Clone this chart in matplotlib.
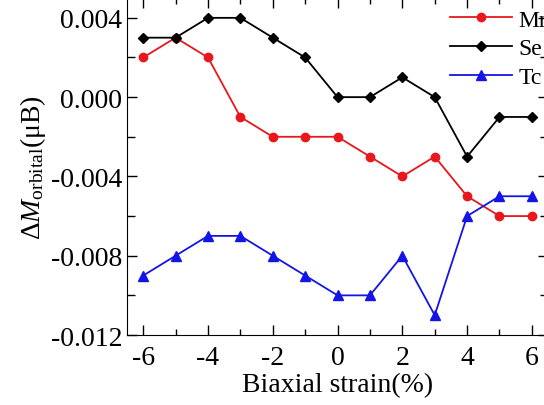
import matplotlib
matplotlib.use("Agg")
import matplotlib.pyplot as plt
from matplotlib.ticker import MultipleLocator

plt.rcParams["font.family"] = ["Liberation Serif", "DejaVu Serif"]
plt.rcParams["mathtext.fontset"] = "custom"
plt.rcParams["mathtext.rm"] = "Liberation Serif"
plt.rcParams["mathtext.it"] = "Liberation Serif:italic"
plt.rcParams["axes.unicode_minus"] = False

# strain values (%) and orbital moment change (muB)
strain = [-6, -5, -4, -3, -2, -1, 0, 1, 2, 3, 4, 5, 6]
mn = [0.002, 0.003, 0.002, -0.001, -0.002, -0.002, -0.002, -0.003, -0.004, -0.003, -0.005, -0.006, -0.006]
se = [0.003, 0.003, 0.004, 0.004, 0.003, 0.002, 0.000, 0.000, 0.001, 0.000, -0.003, -0.001, -0.001]
tc = [-0.009, -0.008, -0.007, -0.007, -0.008, -0.009, -0.010, -0.010, -0.008, -0.011, -0.006, -0.005, -0.005]

fig = plt.figure(figsize=(5.44, 4.06), dpi=100)
ax = fig.add_axes([0.2335, 0.1724, 0.774, 0.83])

ax.plot(strain, mn, color="#e8171c", marker="o", ms=6, lw=1.3, label="Mn")
ax.plot(strain, se, color="black", marker="D", ms=5, lw=1.3, label="Se")
ax.plot(strain, tc, color="#1414e6", marker="^", ms=6.5, lw=1.3, label="Tc")

ax.set_xlim(-6.5, 6.5)
ax.set_ylim(-0.012, 0.005)
ax.xaxis.set_major_locator(MultipleLocator(2))
ax.xaxis.set_minor_locator(MultipleLocator(1))
ax.yaxis.set_major_locator(MultipleLocator(0.004))
ax.yaxis.set_minor_locator(MultipleLocator(0.002))
ax.yaxis.set_major_formatter(plt.FuncFormatter(lambda v, p: "%.3f" % v))
ax.tick_params(which="both", direction="in", top=True, right=True, labelsize=20)
ax.tick_params(which="major", length=7, width=1)
ax.tick_params(which="minor", length=4, width=1)
ax.tick_params(axis="y", which="minor", length=6)
ax.tick_params(axis="x", pad=7)

ax.set_xlabel("Biaxial strain(%)", fontsize=20, labelpad=2)
ax.set_ylabel(r"$\mathit{\Delta M}_{\mathrm{orbital}}(\mathrm{\mu B})$", fontsize=20, labelpad=2)

ax.legend(loc="upper left", bbox_to_anchor=(0.745, 0.995), frameon=False, fontsize=17,
          handlelength=2.6, handletextpad=0.3, labelspacing=0.3, borderaxespad=0)

fig.savefig("out.png", dpi=100)
